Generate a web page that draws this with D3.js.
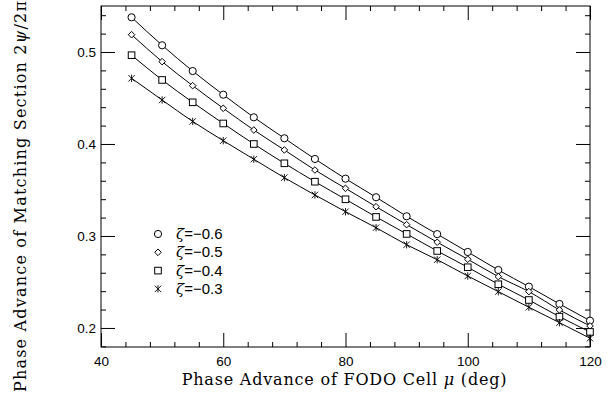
<!DOCTYPE html>
<html>
<head>
<meta charset="utf-8">
<script src="https://cdn.jsdelivr.net/npm/d3@7"></script>
<style>
  body { margin: 0; background: #fff; }
  svg { display: block; }
</style>
</head>
<body>
<div id="chart"></div>
<script>
// data
var mu = [45, 50, 55, 60, 65, 70, 75, 80, 85, 90, 95, 100, 105, 110, 115, 120];
var zeta06 = [0.5377, 0.5073, 0.4793, 0.4536, 0.4290, 0.4062, 0.3837, 0.3623, 0.3421, 0.3214, 0.3020, 0.2826, 0.2630, 0.2449, 0.2261, 0.2079];
var zeta05 = [0.5188, 0.4895, 0.4634, 0.4388, 0.4152, 0.3935, 0.3717, 0.3518, 0.3318, 0.3123, 0.2932, 0.2747, 0.2558, 0.2395, 0.2196, 0.2022];
var zeta04 = [0.4965, 0.4696, 0.4453, 0.4223, 0.4000, 0.3790, 0.3590, 0.3399, 0.3207, 0.3022, 0.2837, 0.2660, 0.2475, 0.2304, 0.2123, 0.1957];
var zeta03 = [0.4714, 0.4478, 0.4245, 0.4036, 0.3834, 0.3634, 0.3446, 0.3264, 0.3090, 0.2905, 0.2742, 0.2565, 0.2395, 0.2225, 0.2058, 0.1888];
var zetaLabels = ["\u22120.6", "\u22120.5", "\u22120.4", "\u22120.3"];
var xTicks = [40, 60, 80, 100, 120];
var yTicks = [0.2, 0.3, 0.4, 0.5];

var series = [
  {name: zetaLabels[0], vals: zeta06, sym: "circle"},
  {name: zetaLabels[1], vals: zeta05, sym: "diamond"},
  {name: zetaLabels[2], vals: zeta04, sym: "square"},
  {name: zetaLabels[3], vals: zeta03, sym: "star"}
];

// set the dimensions and margins of the graph
var margin = {top: 6, right: 26, bottom: 49, left: 101},
    width = 616 - margin.left - margin.right,
    height = 396 - margin.top - margin.bottom;

var x = d3.scaleLinear().domain([40, 120]).range([0, width]);
var y = d3.scaleLinear().domain([0.1793, 0.55]).range([height, 0]);

var svg = d3.select("#chart").append("svg")
    .attr("width", 616)
    .attr("height", 396)
  .append("g")
    .attr("transform", "translate(" + margin.left + "," + margin.top + ")");

// minor ticks first, then major ones with labels
var xMinor = d3.range(40, 121, 4).filter(function(d) { return xTicks.indexOf(d) < 0; });
var yMinor = d3.range(0.18, 0.551, 0.02).map(function(d) { return +d.toFixed(2); })
    .filter(function(d) { return yTicks.indexOf(d) < 0; });

function styleAxis(g) {
  g.select(".domain").remove();
  g.selectAll("line").attr("stroke", "#000").attr("stroke-width", 1);
  g.selectAll("text")
    .attr("fill", "#000")
    .style("font-family", "'Liberation Sans', Arial, sans-serif")
    .style("font-size", "13.5px");
}

// bottom
svg.append("g").attr("transform", "translate(0," + height + ")")
  .call(d3.axisBottom(x).tickValues(xMinor).tickSize(-5).tickFormat(""))
  .call(styleAxis);
svg.append("g").attr("transform", "translate(0," + height + ")")
  .call(d3.axisBottom(x).tickValues(xTicks).tickSize(-14).tickPadding(9).tickFormat(d3.format("d")))
  .call(styleAxis);
// top
svg.append("g")
  .call(d3.axisTop(x).tickValues(xMinor).tickSize(-5).tickFormat(""))
  .call(styleAxis);
svg.append("g")
  .call(d3.axisTop(x).tickValues(xTicks).tickSize(-14).tickFormat(""))
  .call(styleAxis);
// left
svg.append("g")
  .call(d3.axisLeft(y).tickValues(yMinor).tickSize(-5).tickFormat(""))
  .call(styleAxis);
svg.append("g")
  .call(d3.axisLeft(y).tickValues(yTicks).tickSize(-14).tickPadding(5).tickFormat(d3.format(".1f")))
  .call(styleAxis);
// right
svg.append("g").attr("transform", "translate(" + width + ",0)")
  .call(d3.axisRight(y).tickValues(yMinor).tickSize(-5).tickFormat(""))
  .call(styleAxis);
svg.append("g").attr("transform", "translate(" + width + ",0)")
  .call(d3.axisRight(y).tickValues(yTicks).tickSize(-14).tickFormat(""))
  .call(styleAxis);

// frame
svg.append("rect")
  .attr("width", width)
  .attr("height", height)
  .attr("fill", "none")
  .attr("stroke", "#000")
  .attr("stroke-width", 1);

// curves
var line = d3.line()
  .x(function(d, i) { return x(mu[i]); })
  .y(function(d) { return y(d); })
  .curve(d3.curveMonotoneX);

series.forEach(function(s) {
  svg.append("path")
    .datum(s.vals)
    .attr("d", line)
    .attr("fill", "none")
    .attr("stroke", "#000")
    .attr("stroke-width", 1);
});

// marker drawing
function marker(g, sym, cx, cy) {
  if (sym === "circle") {
    g.append("circle").attr("cx", cx).attr("cy", cy).attr("r", 3.6)
      .attr("fill", "#fff").attr("stroke", "#000").attr("stroke-width", 1);
  } else if (sym === "diamond") {
    var r = 3.3;
    g.append("path")
      .attr("d", "M" + cx + "," + (cy - r) + "L" + (cx + r) + "," + cy + "L" + cx + "," + (cy + r) + "L" + (cx - r) + "," + cy + "Z")
      .attr("fill", "#fff").attr("stroke", "#000").attr("stroke-width", 1);
  } else if (sym === "square") {
    g.append("rect").attr("x", cx - 3.3).attr("y", cy - 3.3).attr("width", 6.6).attr("height", 6.6)
      .attr("fill", "#fff").attr("stroke", "#000").attr("stroke-width", 1);
  } else {
    var a = 3.2;
    g.append("path")
      .attr("d", "M" + (cx - a) + "," + (cy - a) + "L" + (cx + a) + "," + (cy + a) +
                 "M" + (cx - a) + "," + (cy + a) + "L" + (cx + a) + "," + (cy - a) +
                 "M" + cx + "," + (cy - a - 0.5) + "L" + cx + "," + (cy + a + 0.5))
      .attr("fill", "none").attr("stroke", "#000").attr("stroke-width", 0.9);
  }
}

series.forEach(function(s) {
  var g = svg.append("g");
  s.vals.forEach(function(v, i) { marker(g, s.sym, x(mu[i]), y(v)); });
});

// legend
var legend = svg.append("g").attr("transform", "translate(" + (158 - margin.left) + "," + (234 - margin.top) + ")");
series.forEach(function(s, i) {
  marker(legend, s.sym, 0, i * 18.3);
  var t = legend.append("text")
    .attr("x", 18)
    .attr("y", i * 18.3 + 5)
    .style("font-family", "'Liberation Sans', Arial, sans-serif")
    .style("font-size", "15px");
  t.append("tspan").style("font-family", "'DejaVu Serif', serif").style("font-style", "italic").text("\u03b6");
  t.append("tspan").text("=" + s.name);
});

// axis titles
var titleFont = "'DejaVu Serif', serif";
var xt = svg.append("text")
  .attr("x", width / 2 - 1)
  .attr("y", height + 38)
  .attr("text-anchor", "middle")
  .style("font-family", titleFont)
  .style("font-size", "16px")
  .style("letter-spacing", "0.8px");
xt.append("tspan").text("Phase Advance of FODO Cell ");
xt.append("tspan").style("font-style", "italic").text("\u03bc");
xt.append("tspan").text(" (deg)");

var yt = svg.append("text")
  .attr("transform", "translate(" + (26 - margin.left) + "," + (392 - margin.top) + ") rotate(-90)")
  .attr("text-anchor", "start")
  .style("font-family", titleFont)
  .style("font-size", "16px")
  .style("letter-spacing", "1.2px");
yt.append("tspan").text("Phase Advance of Matching Section 2");
yt.append("tspan").style("font-style", "italic").text("\u03c8");
yt.append("tspan").text("/2\u03c0");
</script>
</body>
</html>
